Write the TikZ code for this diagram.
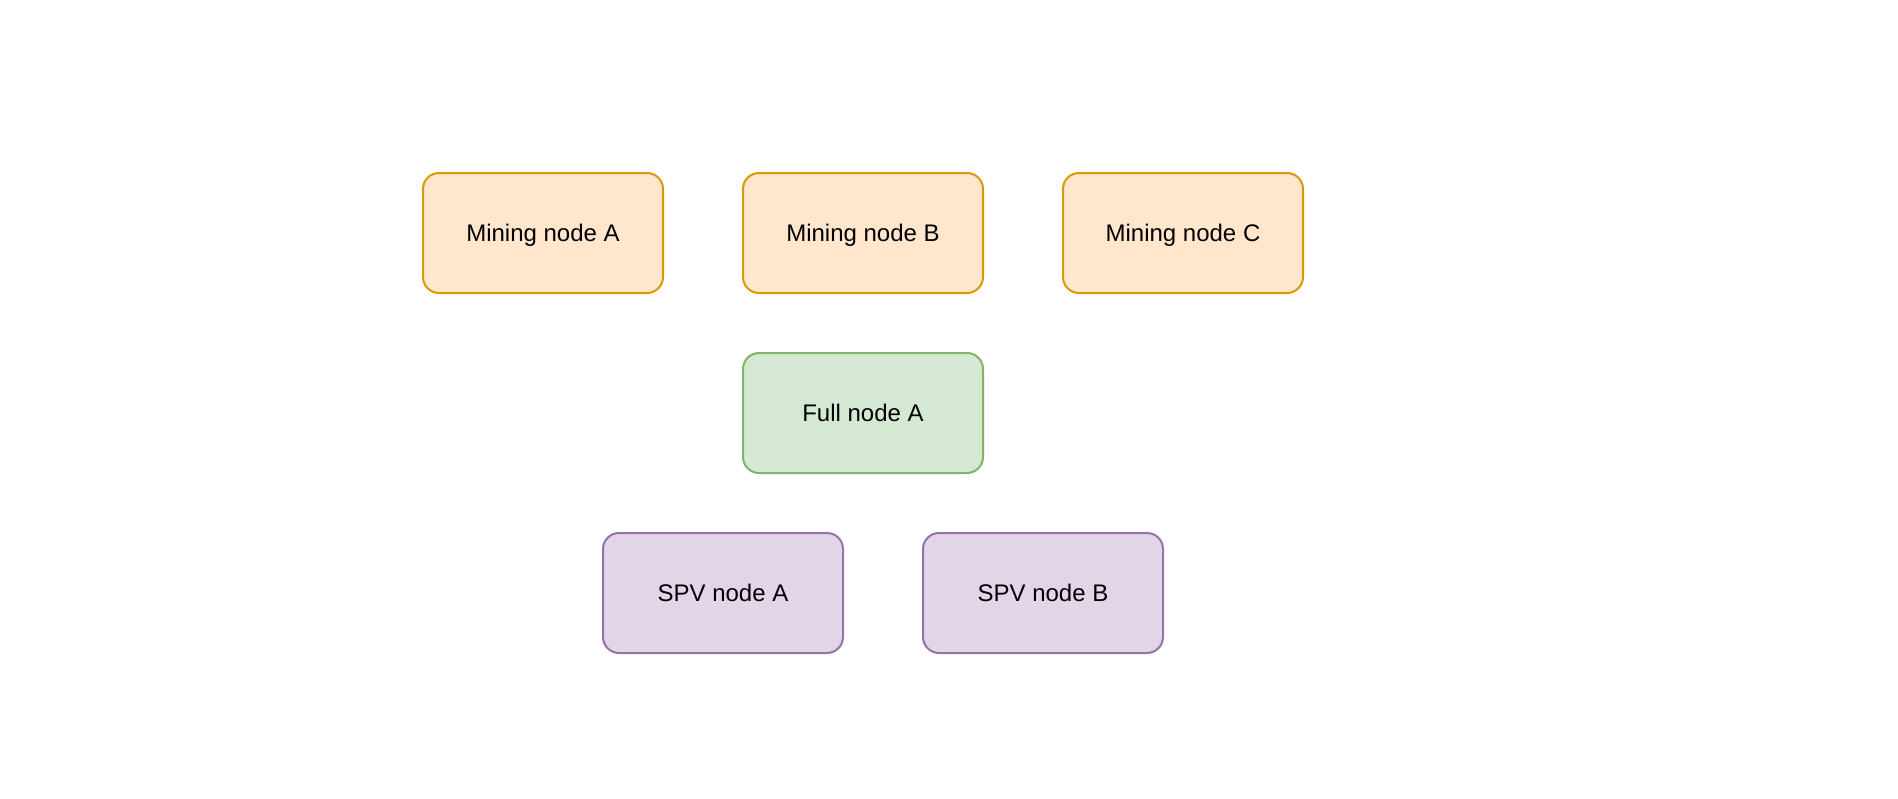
\documentclass[tikz,border=0pt]{standalone}
\usepackage{fontspec}
\setmainfont{Liberation Sans}
\definecolor{orfill}{HTML}{FFE6CC}
\definecolor{ordraw}{HTML}{D79B00}
\definecolor{grfill}{HTML}{D5E8D4}
\definecolor{grdraw}{HTML}{82B366}
\definecolor{pufill}{HTML}{E1D5E7}
\definecolor{pudraw}{HTML}{9673A6}
\begin{document}
\begin{tikzpicture}[x=1pt,y=-1pt,
  box/.style={rectangle, rounded corners=16pt, minimum width=240pt, minimum height=120pt,
    line width=2pt, inner sep=0pt, text height=17.2pt, text depth=0pt,
    font=\fontsize{24}{29}\selectfont, text=black},
  mining/.style={box, draw=ordraw, fill=orfill},
  full/.style={box, draw=grdraw, fill=grfill},
  spv/.style={box, draw=pudraw, fill=pufill}]
\useasboundingbox (0,0) rectangle (1898,798);
\node[mining] (ma) at (543,233) {Mining node A};
\node[mining] (mb) at (863,233) {Mining node B};
\node[mining] (mc) at (1183,233) {Mining node C};
\node[full] (fa) at (863,413) {Full node A};
\node[spv] (sa) at (723,593) {SPV node A};
\node[spv] (sb) at (1043,593) {SPV node B};
\end{tikzpicture}
\end{document}
